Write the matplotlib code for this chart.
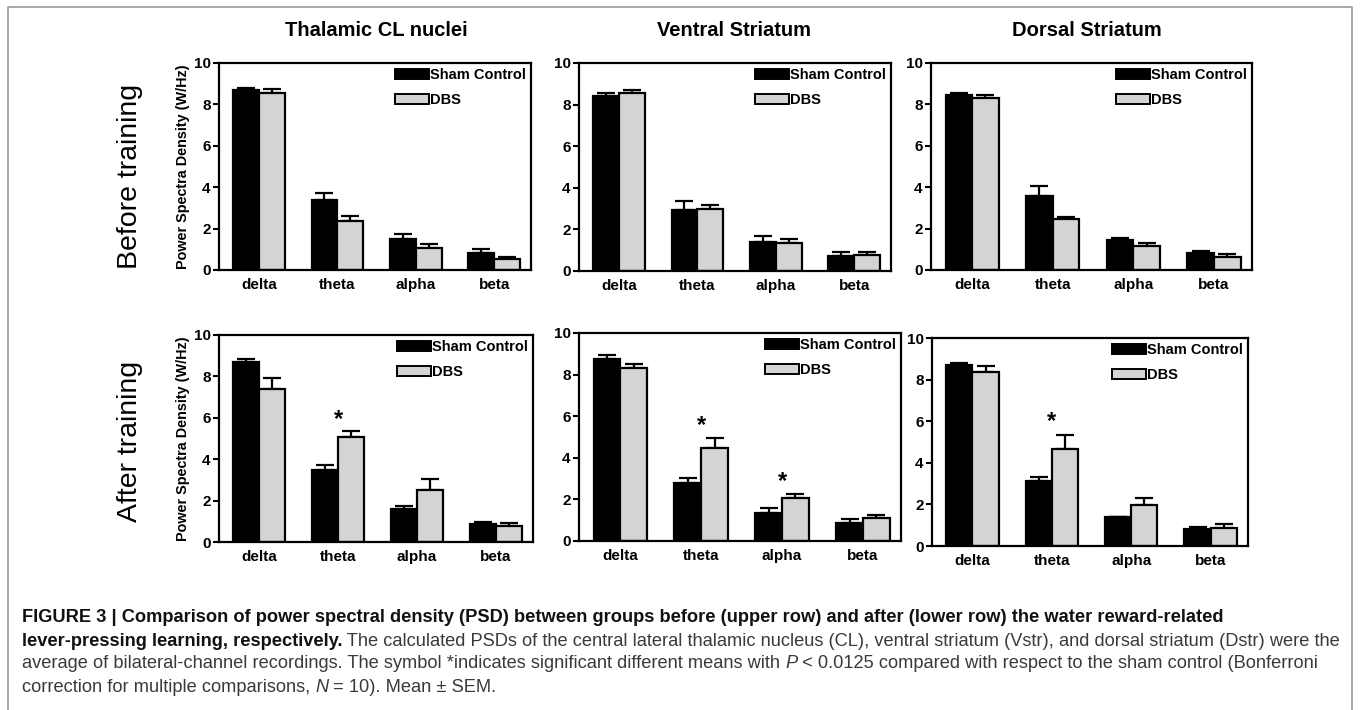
import matplotlib
matplotlib.use("Agg")
import matplotlib.pyplot as plt
import numpy as np
from matplotlib.patches import Patch

plt.rcParams['font.family'] = ['Liberation Sans', 'DejaVu Sans']

bands = ["delta", "theta", "alpha", "beta"]
groups = ["Sham Control", "DBS"]
regions = ["Thalamic CL nuclei", "Ventral Striatum", "Dorsal Striatum"]
rows = ["Before training", "After training"]

# Means (W/Hz)
before_sham = [[8.68, 3.38, 1.50, 0.84], [8.42, 2.94, 1.38, 0.74], [8.44, 3.57, 1.45, 0.80]]
before_dbs = [[8.57, 2.35, 1.08, 0.53], [8.55, 2.96, 1.37, 0.77], [8.31, 2.44, 1.16, 0.64]]
after_sham = [[8.71, 3.47, 1.60, 0.85], [8.76, 2.81, 1.36, 0.88], [8.68, 3.11, 1.38, 0.82]]
after_dbs = [[7.37, 5.05, 2.50, 0.77], [8.33, 4.49, 2.05, 1.09], [8.36, 4.64, 1.97, 0.85]]
# SEM
before_sham_sem = [[0.11, 0.32, 0.24, 0.16], [0.15, 0.42, 0.29, 0.19], [0.11, 0.47, 0.11, 0.10]]
before_dbs_sem = [[0.18, 0.27, 0.17, 0.08], [0.16, 0.21, 0.16, 0.13], [0.16, 0.13, 0.13, 0.12]]
after_sham_sem = [[0.11, 0.26, 0.13, 0.12], [0.18, 0.21, 0.21, 0.16], [0.12, 0.21, 0.03, 0.08]]
after_dbs_sem = [[0.53, 0.30, 0.52, 0.17], [0.18, 0.45, 0.21, 0.16], [0.28, 0.71, 0.36, 0.21]]
# significance stars: (row, col, band index, y position)
stars = [(1, 0, 1, 5.9), (1, 1, 1, 5.55), (1, 1, 2, 2.86), (1, 2, 1, 6.0)]

W, H = 1360, 710
fig = plt.figure(figsize=(W / 100, H / 100), dpi=100)

# axes boxes in pixels: left, right, top, bottom
boxes = [
    [(219, 531, 63, 270), (579, 891, 63, 271), (931, 1252, 63, 270)],
    [(219, 533, 335, 542), (579, 901, 333, 541), (932, 1248, 338, 546)],
]
title_x = [376, 734, 1087]

data = [(before_sham, before_dbs, before_sham_sem, before_dbs_sem),
        (after_sham, after_dbs, after_sham_sem, after_dbs_sem)]

sham_color = "black"
dbs_color = "#d4d4d4"
bw = 0.33
x = np.arange(len(bands))

axes = {}
for r in range(2):
    for c in range(3):
        l, rr, t, b = boxes[r][c]
        ax = fig.add_axes([l / W, 1 - b / H, (rr - l) / W, (b - t) / H])
        axes[(r, c)] = ax
        s, d, ss, ds = data[r]
        ax.errorbar(x - bw / 2, s[c], yerr=[np.zeros(4), ss[c]], fmt='none', ecolor='black',
                    elinewidth=1.6, capsize=6.5, capthick=1.6, zorder=1)
        ax.errorbar(x + bw / 2, d[c], yerr=[np.zeros(4), ds[c]], fmt='none', ecolor='black',
                    elinewidth=1.6, capsize=6.5, capthick=1.6, zorder=1)
        ax.bar(x - bw / 2, s[c], bw, color=sham_color, edgecolor='black', linewidth=1.6, zorder=2)
        ax.bar(x + bw / 2, d[c], bw, color=dbs_color, edgecolor='black', linewidth=1.6, zorder=2)
        ax.set_xlim(-0.51, 3.47)
        ax.set_ylim(0, 10)
        ax.set_yticks([0, 2, 4, 6, 8, 10])
        ax.set_xticks(x)
        ax.set_xticklabels(bands, fontsize=11, fontweight='bold')
        for lab in ax.get_yticklabels():
            lab.set_fontsize(11)
            lab.set_fontweight('bold')
        ax.tick_params(axis='x', length=0, pad=6)
        ax.tick_params(axis='y', length=4, width=1.5, pad=2)
        for sp in ax.spines.values():
            sp.set_linewidth(1.6)
        handles = [Patch(facecolor=sham_color, edgecolor='black', linewidth=1.4),
                   Patch(facecolor=dbs_color, edgecolor='black', linewidth=1.4)]
        ax.legend(handles, groups, loc='upper right', bbox_to_anchor=(1.0, 1.0), frameon=False,
                  prop={'weight': 'bold', 'size': 10.5}, handlelength=2.3, handleheight=0.7,
                  handletextpad=0.1, labelspacing=0.75, borderaxespad=0.15, borderpad=0.2)
        if c == 0:
            ax.set_ylabel("Power Spectra Density (W/Hz)", fontsize=10.4, fontweight='bold', labelpad=3)

for (r, c, bi, yv) in stars:
    axes[(r, c)].text(x[bi], yv, "*", ha='center', va='center', fontsize=17, fontweight='bold')

# column titles
for c, name in enumerate(regions):
    fig.text(title_x[c] / W, 1 - 30 / H, name, ha='center', va='center',
             fontsize=14.5, fontweight='bold')

# row labels
row_centers = [176, 441]
for name, yc in zip(rows, row_centers):
    fig.text(130 / W, 1 - yc / H, name, ha='center', va='center',
             rotation=90, fontsize=20.5)

# outer frame (open at bottom)
fig.add_artist(plt.Line2D([8 / W, 8 / W, 1352 / W, 1352 / W], [0, 1 - 7 / H, 1 - 7 / H, 0],
                          transform=fig.transFigure, color='#9a9a9a', linewidth=1.2))

# caption
cap_lines = [
    [("FIGURE 3 | Comparison of power spectral density (PSD) between groups before (upper row) and after (lower row) the water reward-related", 'bold', 'normal')],
    [("lever-pressing learning, respectively.", 'bold', 'normal'),
     (" The calculated PSDs of the central lateral thalamic nucleus (CL), ventral striatum (Vstr), and dorsal striatum (Dstr) were the", 'normal', 'normal')],
    [("average of bilateral-channel recordings. The symbol *indicates significant different means with ", 'normal', 'normal'),
     ("P", 'normal', 'italic'),
     (" < 0.0125 compared with respect to the sham control (Bonferroni", 'normal', 'normal')],
    [("correction for multiple comparisons, ", 'normal', 'normal'),
     ("N", 'normal', 'italic'),
     (" = 10). Mean \u00b1 SEM.", 'normal', 'normal')],
]
cap_y = [618, 641, 664, 688]
fig.canvas.draw()
renderer = fig.canvas.get_renderer()
for line, yp in zip(cap_lines, cap_y):
    xp = 22
    for txt, wt, st in line:
        col = '#111111' if wt == 'bold' else '#3a3a3a'
        t = fig.text(xp / W, 1 - yp / H, txt, ha='left', va='center', fontsize=13.15,
                     fontweight=wt, fontstyle=st, color=col)
        ext = t.get_window_extent(renderer=renderer)
        xp += ext.width

fig.savefig("out.png", dpi=100)
